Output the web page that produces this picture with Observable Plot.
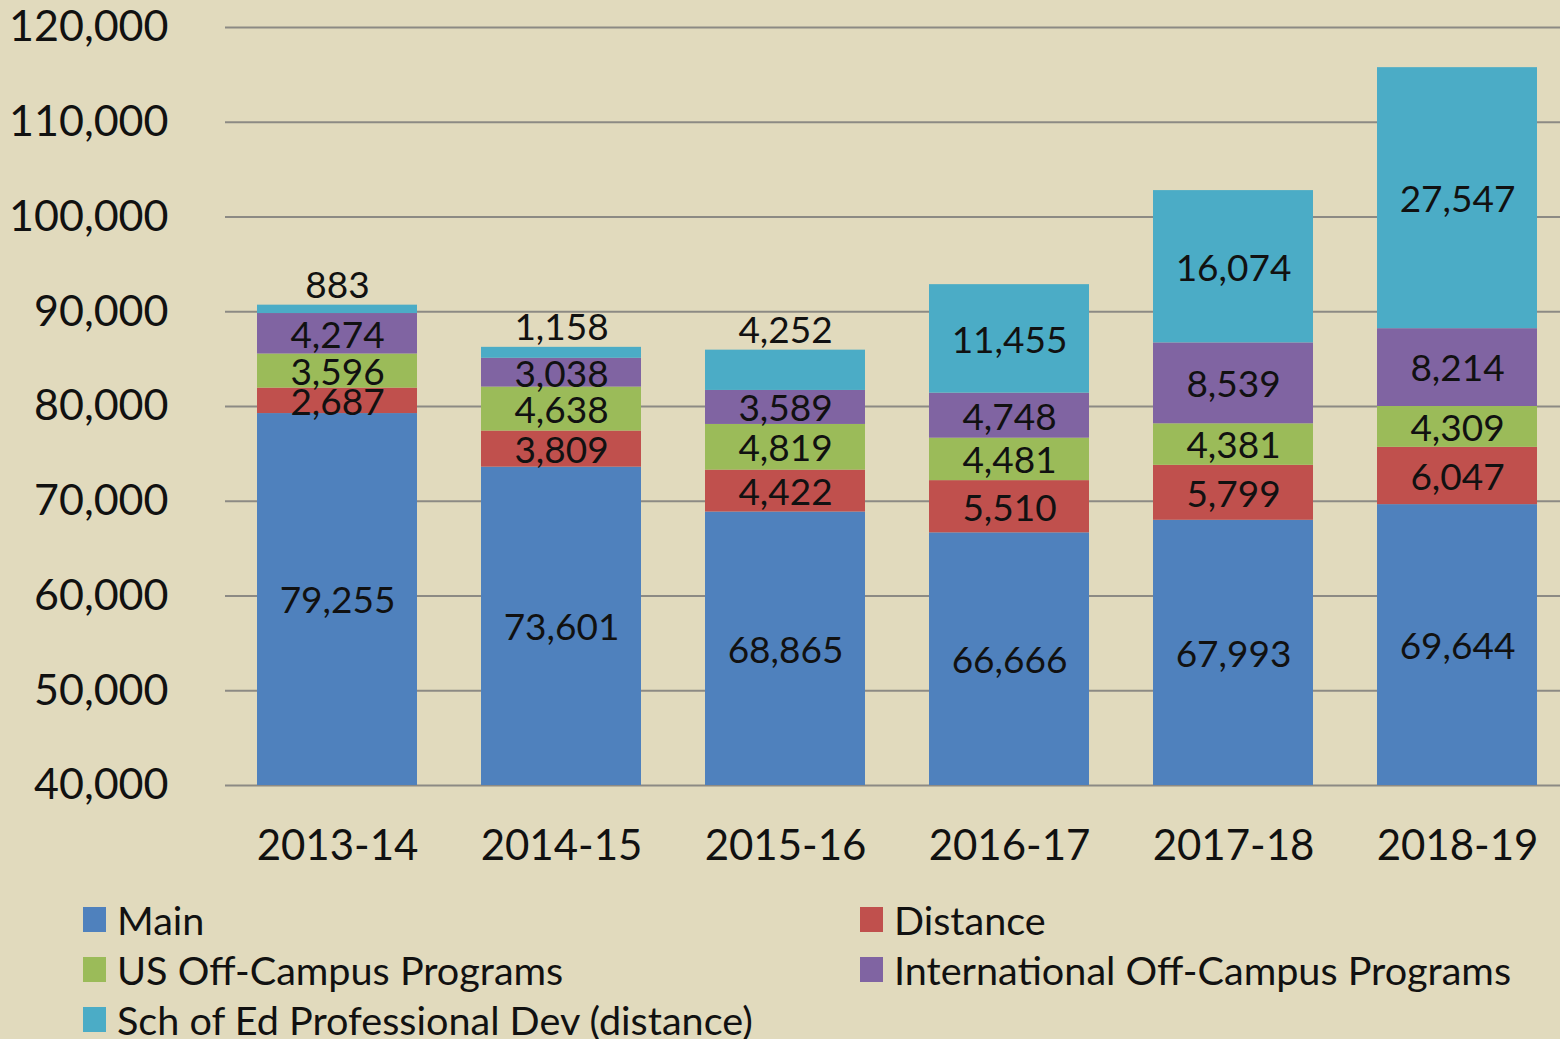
<!DOCTYPE html>
<html>
<head>
<meta charset="utf-8">
<script src="https://cdn.jsdelivr.net/npm/d3@7"></script>
<script src="https://cdn.jsdelivr.net/npm/@observablehq/plot@0.6"></script>
<style>
  html, body { margin: 0; padding: 0; background: #e1dabd; overflow: hidden; }
  body { width: 1560px; height: 1039px; font-family: Lato, "Open Sans", sans-serif; }
  #chart svg { display: block; background: #e1dabd; }
  #legend { display: grid; grid-template-columns: 777px auto; padding-left: 83px; margin-top: 4px; font-size: 39.6px; color: #111; }
  .item { display: flex; align-items: center; height: 50px; white-space: nowrap; }
  .sw { width: 23px; height: 25px; margin-right: 11px; flex: none; }
</style>
</head>
<body>
<div id="chart"></div>
<div id="legend"></div>
<script>
const years = ["2013-14", "2014-15", "2015-16", "2016-17", "2017-18", "2018-19"];
const seriesNames = ["Main", "Distance", "US Off-Campus Programs", "International Off-Campus Programs", "Sch of Ed Professional Dev (distance)"];
const main = [79255, 73601, 68865, 66666, 67993, 69644];
const distance = [2687, 3809, 4422, 5510, 5799, 6047];
const usOffCampus = [3596, 4638, 4819, 4481, 4381, 4309];
const intlOffCampus = [4274, 3038, 3589, 4748, 8539, 8214];
const schOfEd = [883, 1158, 4252, 11455, 16074, 27547];
const colors = ["#4f81bd", "#c0504d", "#9bbb59", "#8064a2", "#4bacc6"];
const yTicks = [40000, 50000, 60000, 70000, 80000, 90000, 100000, 110000, 120000];

const seriesValues = [main, distance, usOffCampus, intlOffCampus, schOfEd];
const yMin = 40000, yMax = 120000;

// Build stacked rows
const rows = [];
years.forEach((yr, i) => {
  let base = 0;
  seriesValues.forEach((vals, s) => {
    const v = vals[i];
    const y1 = base, y2 = base + v;
    rows.push({year: yr, series: seriesNames[s], value: v, y1, y2,
      mid: (Math.max(y1, yMin) + y2) / 2, top: s === seriesValues.length - 1});
    base = y2;
  });
});
const inside = rows.filter(d => !(d.top && d.value < 5000));
const above = rows.filter(d => d.top && d.value < 5000);
const fmt = d3.format(",");

const chart = Plot.plot({
  width: 1560,
  height: 890,
  marginLeft: 225,
  marginRight: -9,
  marginTop: 27,
  marginBottom: 105,
  style: {background: "#e1dabd", fontFamily: "Lato, 'Open Sans', sans-serif", color: "#111"},
  x: {domain: years, paddingInner: 0.286, paddingOuter: 0.143, label: null},
  y: {domain: [yMin, yMax], label: null},
  color: {domain: seriesNames, range: colors},
  marks: [
    Plot.ruleY(yTicks, {stroke: "#8c8a84", strokeWidth: 2.2}),
    Plot.barY(rows, {x: "year", y1: "y1", y2: "y2", fill: "series", clip: true}),
    Plot.text(inside, {x: "year", y: "mid", text: d => fmt(d.value), fontSize: 37, fill: "#111", dy: 2}),
    Plot.text(above, {x: "year", y: "y2", text: d => fmt(d.value), fontSize: 37, fill: "#111", dy: -19}),
    Plot.axisY({ticks: yTicks, tickSize: 0, tickPadding: 57, tickFormat: fmt, fontSize: 43}),
    Plot.axisX({tickSize: 0, tickPadding: 45, fontSize: 42})
  ]
});
document.getElementById("chart").appendChild(chart);

const legend = document.getElementById("legend");
seriesNames.forEach((name, s) => {
  const item = document.createElement("div");
  item.className = "item";
  const sw = document.createElement("span");
  sw.className = "sw";
  sw.style.background = colors[s];
  const lab = document.createElement("span");
  lab.textContent = name;
  item.appendChild(sw);
  item.appendChild(lab);
  legend.appendChild(item);
});
</script>
</body>
</html>
